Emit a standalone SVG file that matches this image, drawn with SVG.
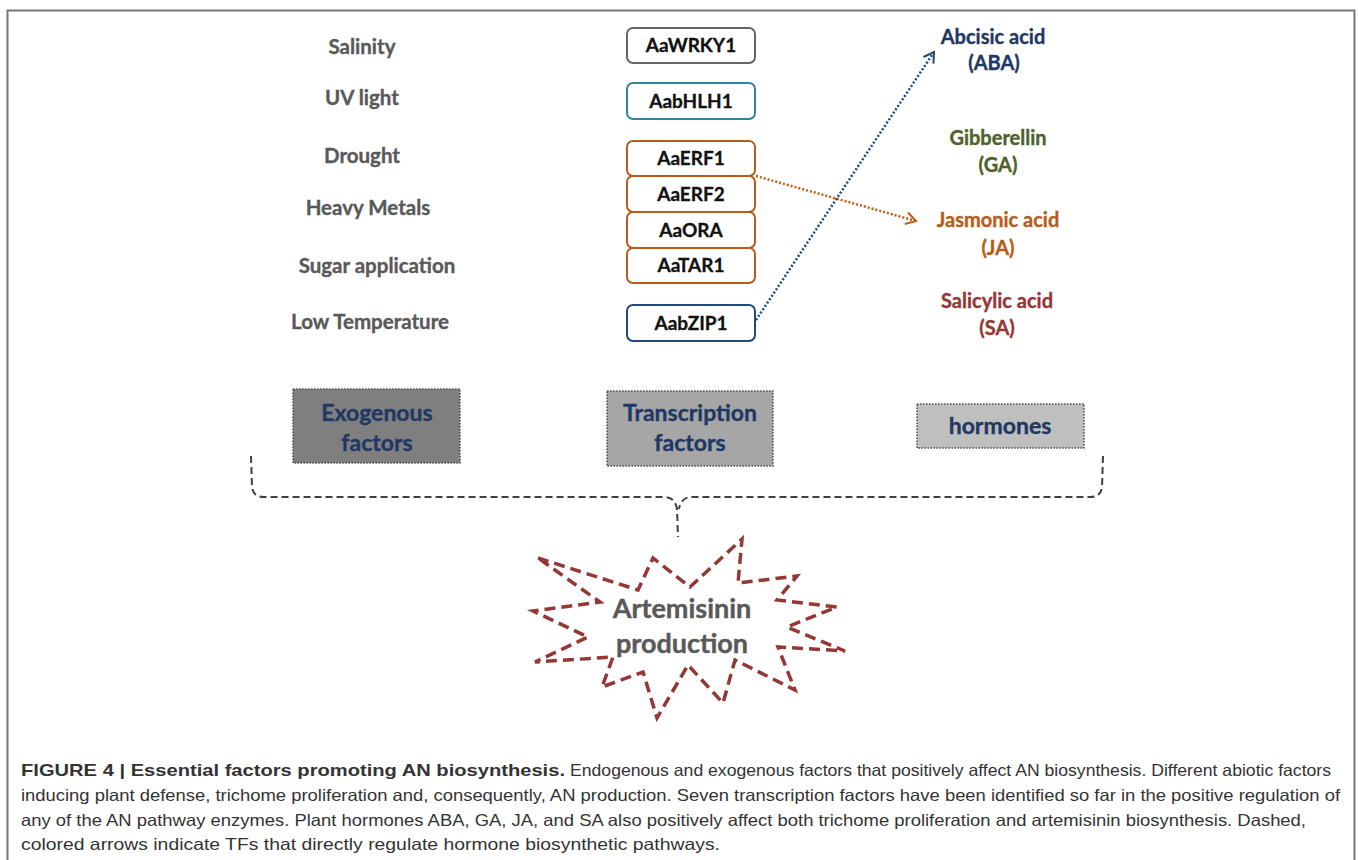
<svg xmlns="http://www.w3.org/2000/svg" width="1358" height="860" viewBox="0 0 1358 860">
<defs>
<style>
.lbl{font-family:Lato,"Open Sans",sans-serif;font-weight:bold;font-size:20.5px;fill:#595959;stroke:#595959;stroke-width:0.35;text-anchor:middle}
.tf rect{fill:#fff;stroke-width:2}
.tf text{font-family:Lato,"Open Sans",sans-serif;font-weight:bold;font-size:19px;fill:#111;stroke:#111;stroke-width:0.3;text-anchor:middle}
.hor{font-family:Lato,"Open Sans",sans-serif;font-weight:bold;font-size:20px;stroke-width:0.35;text-anchor:middle}
.cat rect{stroke:#555;stroke-width:1.6;stroke-dasharray:1.6 1.4}
.cat text{font-family:Lato,"Open Sans",sans-serif;font-weight:bold;font-size:23px;fill:#1f3864;stroke:#1f3864;stroke-width:0.35;text-anchor:middle}
.art{font-family:Lato,"Open Sans",sans-serif;font-weight:bold;font-size:27px;fill:#595959;stroke:#595959;stroke-width:0.4;text-anchor:middle}
.cap{font-family:"Liberation Sans",Arial,sans-serif;font-size:16.5px;fill:#333}
</style>
<marker id="ao" markerUnits="userSpaceOnUse" markerWidth="16" markerHeight="16" refX="12" refY="7" orient="auto">
<path d="M2,1 L12,7 L2,13" fill="none" stroke="#c55a11" stroke-width="2"/>
</marker>
<marker id="ab" markerUnits="userSpaceOnUse" markerWidth="16" markerHeight="16" refX="12" refY="7" orient="auto">
<path d="M2,1 L12,7 L2,13" fill="none" stroke="#1f497d" stroke-width="2"/>
</marker>
</defs>
<rect x="0" y="0" width="1358" height="860" fill="#fff"/>
<rect x="7.5" y="10.5" width="1347" height="870" fill="none" stroke="#777" stroke-width="2"/>

<g id="exogenous-labels">
<text class="lbl" x="362" y="54">Salinity</text>
<text class="lbl" x="362" y="105">UV light</text>
<text class="lbl" x="362" y="163">Drought</text>
<text class="lbl" x="368" y="215">Heavy Metals</text>
<text class="lbl" x="377" y="273">Sugar application</text>
<text class="lbl" x="370" y="329">Low Temperature</text>
</g>

<g id="tf-AaWRKY1" class="tf"><rect x="627" y="28" width="128" height="35" rx="6" stroke="#666"/><text x="691" y="52">AaWRKY1</text></g>
<g id="tf-AabHLH1" class="tf"><rect x="627" y="83" width="128" height="36" rx="6" stroke="#31849b"/><text x="691" y="108">AabHLH1</text></g>
<g id="tf-AaERF1" class="tf"><rect x="627" y="141" width="128" height="35" rx="6" stroke="#b85c1a"/><text x="691" y="165">AaERF1</text></g>
<g id="tf-AaERF2" class="tf"><rect x="627" y="176" width="128" height="36" rx="6" stroke="#b85c1a"/><text x="691" y="201">AaERF2</text></g>
<g id="tf-AaORA" class="tf"><rect x="627" y="212" width="128" height="36" rx="6" stroke="#b85c1a"/><text x="691" y="237">AaORA</text></g>
<g id="tf-AaTAR1" class="tf"><rect x="627" y="248" width="128" height="35" rx="6" stroke="#b85c1a"/><text x="691" y="272">AaTAR1</text></g>
<g id="tf-AabZIP1" class="tf"><rect x="627" y="305" width="128" height="36" rx="6" stroke="#1f497d"/><text x="691" y="330">AabZIP1</text></g>

<g id="hormone-ABA" fill="#1f3864" stroke="#1f3864"><text class="hor" x="993" y="44">Abcisic acid</text><text class="hor" x="994" y="70">(ABA)</text></g>
<g id="hormone-GA" fill="#4f6228" stroke="#4f6228"><text class="hor" x="998" y="145">Gibberellin</text><text class="hor" x="998" y="172">(GA)</text></g>
<g id="hormone-JA" fill="#b85c1a" stroke="#b85c1a"><text class="hor" x="998" y="227">Jasmonic acid</text><text class="hor" x="998" y="255">(JA)</text></g>
<g id="hormone-SA" fill="#953735" stroke="#953735"><text class="hor" x="997" y="308">Salicylic acid</text><text class="hor" x="997" y="335">(SA)</text></g>

<g id="connectors" fill="none">
<line x1="756" y1="176" x2="916" y2="221" stroke="#c55a11" stroke-width="2.5" stroke-dasharray="2 2" marker-end="url(#ao)"/>
<line x1="756" y1="320" x2="934" y2="52" stroke="#1f497d" stroke-width="2.5" stroke-dasharray="2 2" marker-end="url(#ab)"/>
<path d="M251,456 L252,487 Q253,497 264,497 L664,497 Q675,497 677,509 L678,537" stroke="#404040" stroke-width="2" stroke-dasharray="7 4"/>
<path d="M1103,456 L1102,487 Q1101,497 1090,497 L692,497 Q681,497 679,509" stroke="#404040" stroke-width="2" stroke-dasharray="7 4"/>
</g>

<g id="cat-exogenous" class="cat"><rect x="293" y="389" width="167" height="74" fill="#7f7f7f"/><text x="377" y="421">Exogenous</text><text x="377" y="451">factors</text></g>
<g id="cat-tf" class="cat"><rect x="607" y="391" width="166" height="75" fill="#a6a6a6"/><text x="690" y="421">Transcription</text><text x="690" y="451">factors</text></g>
<g id="cat-hormones" class="cat"><rect x="917" y="404" width="167" height="44" fill="#bfbfbf"/><text x="1000" y="434">hormones</text></g>

<g id="artemisinin">
<polygon points="538,558 638,590 653,558 690,587 742,539 738,583 797,576 777,600 837,607 787,627 845,651 778,647 795,690 735,660 723,703 688,665 657,718 643,672 602,687 613,657 535,662 588,637 533,611 600,602" fill="#fff" stroke="#953735" stroke-width="3.5" stroke-dasharray="11 6" stroke-linejoin="miter"/>
<text class="art" x="682" y="618">Artemisinin</text>
<text class="art" x="682" y="653">production</text>
</g>

<g id="caption">
<text class="cap" x="21" y="776" font-weight="bold" textLength="544" lengthAdjust="spacingAndGlyphs">FIGURE 4 | Essential factors promoting AN biosynthesis.</text>
<text class="cap" x="570" y="776" textLength="761" lengthAdjust="spacingAndGlyphs">Endogenous and exogenous factors that positively affect AN biosynthesis. Different abiotic factors</text>
<text class="cap" x="21" y="801" textLength="1319" lengthAdjust="spacingAndGlyphs">inducing plant defense, trichome proliferation and, consequently, AN production. Seven transcription factors have been identified so far in the positive regulation of</text>
<text class="cap" x="21" y="826" textLength="1285" lengthAdjust="spacingAndGlyphs">any of the AN pathway enzymes. Plant hormones ABA, GA, JA, and SA also positively affect both trichome proliferation and artemisinin biosynthesis. Dashed,</text>
<text class="cap" x="21" y="850" textLength="699" lengthAdjust="spacingAndGlyphs">colored arrows indicate TFs that directly regulate hormone biosynthetic pathways.</text>
</g>
</svg>
